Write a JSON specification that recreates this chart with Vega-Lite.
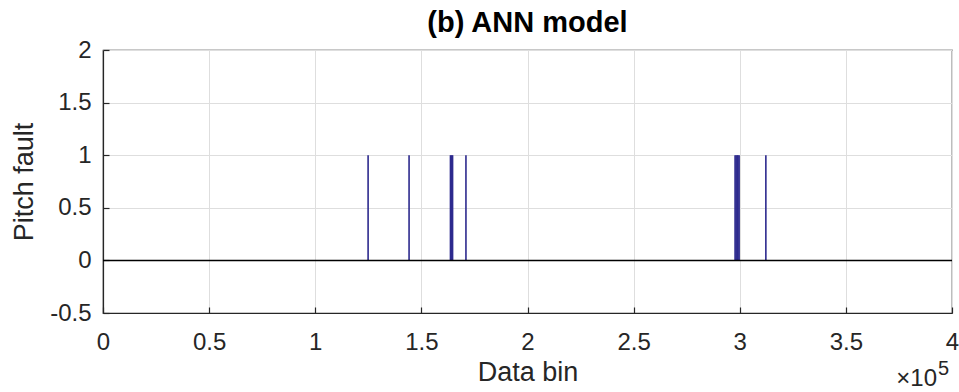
{
  "$schema": "https://vega.github.io/schema/vega-lite/v6.json",
  "width": 849,
  "height": 263,
  "autosize": {"type": "none"},
  "padding": {"left": 103, "top": 50, "right": 7, "bottom": 79},
  "background": "white",
  "config": {
    "font": "Liberation Sans",
    "view": {"stroke": "#262626", "strokeWidth": 1.2},
    "axis": {
      "labelFont": "Liberation Sans",
      "titleFont": "Liberation Sans",
      "labelColor": "#262626",
      "titleColor": "#262626",
      "labelFontSize": 24,
      "titleFontSize": 27,
      "titleFontWeight": "normal",
      "labelFlush": false,
      "domainColor": "#262626",
      "domainWidth": 1.2,
      "tickColor": "#262626",
      "tickWidth": 1.2,
      "tickSize": -6,
      "gridColor": "#dedede",
      "gridWidth": 1
    }
  },
  "title": {
    "text": "(b) ANN model",
    "font": "Liberation Sans",
    "fontSize": 29,
    "fontWeight": "bold",
    "color": "#000000",
    "anchor": "middle",
    "offset": 0
  },
  "datasets": {
    "spikes": [
      {"bin": 124900, "fault": 1},
      {"bin": 144200, "fault": 1},
      {"bin": 163700, "fault": 1},
      {"bin": 164200, "fault": 1},
      {"bin": 164700, "fault": 1},
      {"bin": 171000, "fault": 1},
      {"bin": 297800, "fault": 1},
      {"bin": 298300, "fault": 1},
      {"bin": 298800, "fault": 1},
      {"bin": 299200, "fault": 1},
      {"bin": 299700, "fault": 1},
      {"bin": 312300, "fault": 1}
    ],
    "baseline": [
      {"bin": 0, "fault": 0},
      {"bin": 400000, "fault": 0}
    ]
  },
  "layer": [
    {
      "data": {"name": "spikes"},
      "mark": {"type": "rule", "color": "#2d2a8e", "strokeWidth": 1.6},
      "encoding": {
        "x": {
          "field": "bin",
          "type": "quantitative",
          "scale": {"domain": [0, 400000], "nice": false, "zero": false},
          "axis": {
            "title": "Data bin",
            "values": [0, 50000, 100000, 150000, 200000, 250000, 300000, 350000, 400000],
            "labelExpr": "toString(datum.value / 100000)",
            "labelPadding": 23,
            "titlePadding": 5,
            "grid": true
          }
        },
        "y": {
          "field": "fault",
          "type": "quantitative",
          "scale": {"domain": [-0.5, 2], "nice": false, "zero": false},
          "axis": {
            "title": "Pitch fault",
            "values": [-0.5, 0, 0.5, 1, 1.5, 2],
            "labelExpr": "toString(datum.value)",
            "labelPadding": 18,
            "titlePadding": 11,
            "grid": true
          }
        },
        "y2": {"datum": 0}
      }
    },
    {
      "data": {"name": "baseline"},
      "mark": {"type": "line", "color": "#000000", "strokeWidth": 1.5},
      "encoding": {
        "x": {"field": "bin", "type": "quantitative"},
        "y": {"field": "fault", "type": "quantitative"}
      }
    },
    {
      "data": {"values": [{"t": "×10"}]},
      "mark": {"type": "text", "align": "right", "baseline": "alphabetic", "fontSize": 24, "color": "#262626", "dx": -15, "dy": 73, "clip": false},
      "encoding": {
        "x": {"datum": 400000, "type": "quantitative"},
        "y": {"datum": -0.5, "type": "quantitative"},
        "text": {"field": "t"}
      }
    },
    {
      "data": {"values": [{"t": "5"}]},
      "mark": {"type": "text", "align": "left", "baseline": "alphabetic", "fontSize": 20, "color": "#262626", "dx": -14, "dy": 62, "clip": false},
      "encoding": {
        "x": {"datum": 400000, "type": "quantitative"},
        "y": {"datum": -0.5, "type": "quantitative"},
        "text": {"field": "t"}
      }
    }
  ]
}
